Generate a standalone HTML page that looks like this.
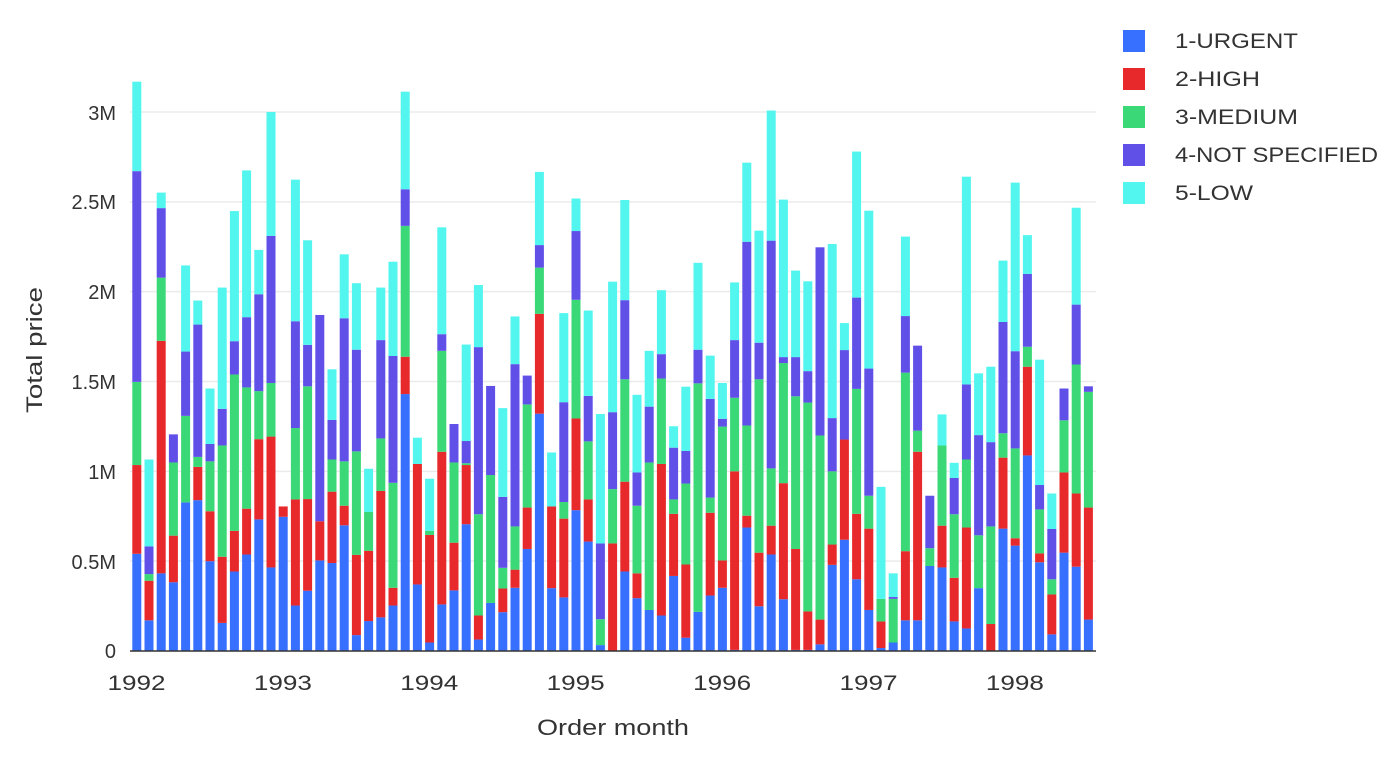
<!DOCTYPE html>
<html><head><meta charset="utf-8"><style>
html,body{margin:0;padding:0;background:#fff;}
svg text{font-family:"Liberation Sans",sans-serif;fill:#333;}
</style></head><body>
<svg id="c" width="1396" height="760" viewBox="0 0 1396 760" xmlns="http://www.w3.org/2000/svg">
<g id="grid"></g>
<g id="bars"></g>
<line x1="130" y1="651" x2="1096" y2="651" stroke="#333" stroke-width="1.5"/>
<g font-size="20" text-anchor="end">
<text x="116" y="658">0</text>
<text x="116" y="569">0.5M</text>
<text x="116" y="479">1M</text>
<text x="116" y="389">1.5M</text>
<text x="116" y="299">2M</text>
<text x="116" y="209">2.5M</text>
<text x="116" y="120">3M</text>
</g>
<g font-size="21" id="xl"></g>
<text x="537" y="735" font-size="22" textLength="152" lengthAdjust="spacingAndGlyphs">Order month</text>
<text transform="translate(42,413) rotate(-90)" font-size="22" textLength="126" lengthAdjust="spacingAndGlyphs">Total price</text>
<g font-size="21">
<rect x="1123" y="30" width="22" height="22" fill="#376fff"/><text x="1175" y="48" textLength="123" lengthAdjust="spacingAndGlyphs">1-URGENT</text>
<rect x="1123" y="68" width="22" height="22" fill="#e8292b"/><text x="1175" y="86" textLength="85" lengthAdjust="spacingAndGlyphs">2-HIGH</text>
<rect x="1123" y="106" width="22" height="22" fill="#3ad877"/><text x="1175" y="124" textLength="123" lengthAdjust="spacingAndGlyphs">3-MEDIUM</text>
<rect x="1123" y="144" width="22" height="22" fill="#6050e8"/><text x="1175" y="162" textLength="203" lengthAdjust="spacingAndGlyphs">4-NOT SPECIFIED</text>
<rect x="1123" y="182" width="22" height="22" fill="#52f6ee"/><text x="1175" y="200" textLength="78" lengthAdjust="spacingAndGlyphs">5-LOW</text>
</g>
</svg>
<script>
var D=[[1280,1040,815,245,3],[1460,1353,1335,1260,1025],[1333,704,533,345,303],[1357,1231,1033,957,957],[1141,1141,907,733,500],[1135,1045,1018,660,595],[1300,1165,1030,983,833],[1467,1288,987,888,560],[1328,1218,795,705,353],[1282,1158,830,640,243],[1187,970,840,578,458],[1317,963,818,420,85],[1180,1152,1152,1152,1152],[1420,1133,940,651,268],[1380,1132,827,715,432],[1298,1192,1192,634,634],[1305,1112,1025,918,781],[1203,1150,1030,643,470],[1500,1283,1003,728,548],[1462,1272,1167,1167,1050],
[1452,1110,968,702,560],[1420,1372,1088,745,490],[848,747,393,294,30],[1363,1037,1037,1037,966],[1520,1229,1218,1218,1077],[1417,1004,731,686,397],[1379,1250,1033,929,929],[1200,1040,1035,975,714],[1512,1447,1173,721,553],[1413,1413,1067,826,826],[1438,1374,1318,1126,886],[1372,1323,1206,767,638],[1267,1155,876,798,798],[901,631,506,445,247],[1373,1152,1152,1152,1006],[1398,1185,1140,870,629],[1162,914,593,407,319],[1247,1133,976,853,622],[1527,1527,1457,1252,902],[1543,1252,1105,897,544],
[1328,1085,808,594,323],[1400,1333,1150,1060,850],[1432,1432,1033,882,731],[1447,1037,806,740,567],[1340,1172,1133,993,935],[1507,1309,1090,1002,828],[1437,1437,819,728,493],[1393,1169,1128,861,744],[1372,1298,936,915,818],[1540,1057,858,702,546],[1209,1177,933,436,222],[1422,1277,808,709,406],[1282,1204,1049,433,81],[1403,1089,764,748,322],[1540,1267,854,748,514],[1540,1436,871,786,543],[1525,1458,960,451,451],[1310,1255,1057,913,442],[1242,971,971,729,656],[1349,1172,834,587,192],
[1432,1212,1123,779,352],[1535,1463,1402,1402,1099],[1520,1520,1402,1397,1333],[1460,1273,790,637,422],[1460,1004,947,717,717],[1313,1313,1265,1123,1123],[1317,1204,987,987,903],[1463,1345,1173,1075,1034],[1482,1209,1025,822,260],[1373,1373,1230,959,792],[1545,1470,1206,978,774],[1212,1020,954,653,487],[1258,1238,995,732,276],[1014,774,720,523,418],[1303,1279,1160,1094,755],[1498,1390,1349,1213,1117],[1277,1060,919,833,833],[1315,1117,768,606,344],[1458,1155,842,827,827]];
var C=["#376fff","#e8292b","#3ad877","#6050e8","#52f6ee"];
function Y(z){return 112+(z-85)*539/1458;}
var ns="http://www.w3.org/2000/svg",g=document.getElementById("bars"),gr=document.getElementById("grid"),xl=document.getElementById("xl");
for(var k=1;k<=6;k++){var l=document.createElementNS(ns,"line");var y=651-k*89.83;l.setAttribute("x1",130);l.setAttribute("x2",1096);l.setAttribute("y1",y);l.setAttribute("y2",y);l.setAttribute("stroke","#ebebeb");l.setAttribute("stroke-width","1.5");gr.appendChild(l);}
D.forEach(function(d,i){var x=132.3+12.2*i,prev=651;for(var s=0;s<5;s++){var t=Math.min(Y(d[s]),651);if(d[s]>=1543)t=651;var h=prev-t;if(h>0.3){var r=document.createElementNS(ns,"rect");r.setAttribute("x",x);r.setAttribute("width",9);r.setAttribute("y",t);r.setAttribute("height",h);r.setAttribute("fill",C[s]);g.appendChild(r);}prev=Math.min(prev,t);}});
for(var yr=0;yr<7;yr++){var t=document.createElementNS(ns,"text");t.setAttribute("x",107.5+146.4*yr);t.setAttribute("y",690);t.setAttribute("textLength",58);t.setAttribute("lengthAdjust","spacingAndGlyphs");t.textContent=1992+yr;xl.appendChild(t);}
</script>
</body></html>
